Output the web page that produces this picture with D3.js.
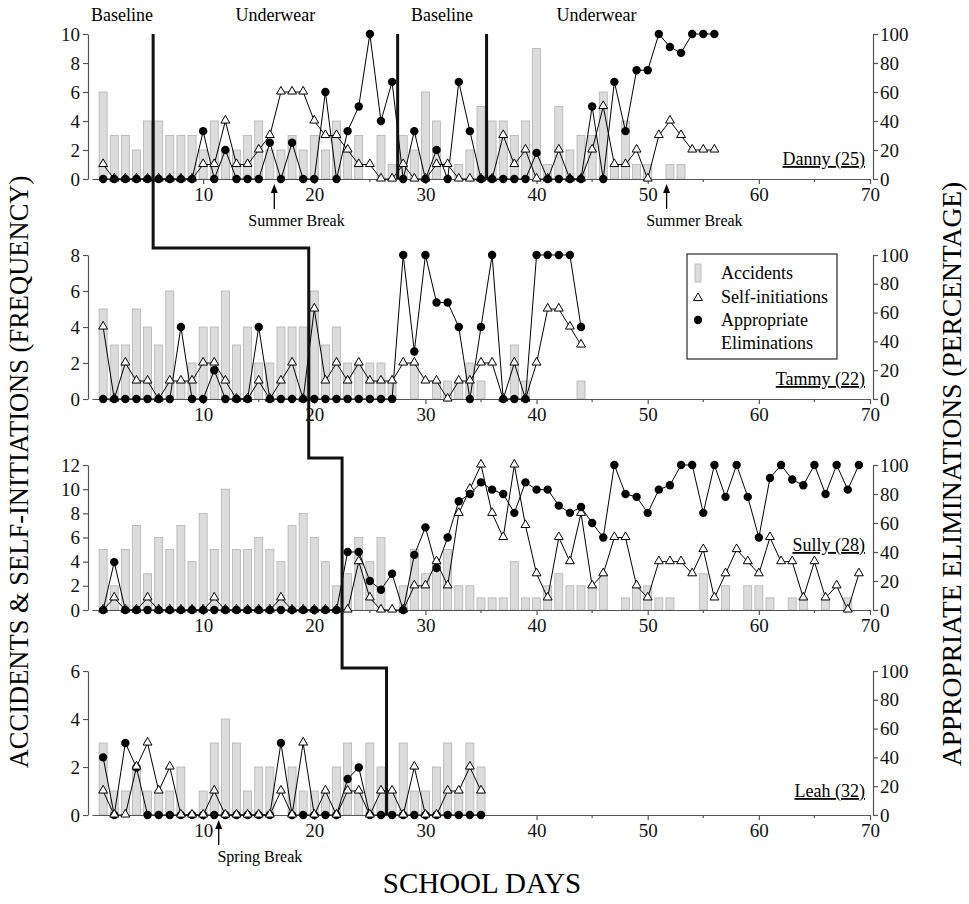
<!DOCTYPE html>
<meta charset="utf-8">
<style>
    body { margin: 0; background: #fff; }
    svg { font-family: "Liberation Serif", "Times New Roman", serif; }
    .axis path, .axis line { stroke: #555; stroke-width: 1.2px; }
    .axis text { font-family: "Liberation Serif", serif; font-size: 19px; fill: #111; }
    .bar { fill: #dcdcdc; stroke: #b2b2b2; stroke-width: 0.8px; }
    .series { fill: none; stroke: #000; stroke-width: 1px; }
    .tri { fill: #fff; stroke: #000; stroke-width: 1px; }
    .dot { fill: #000; }
    .phase { fill: none; stroke: #111; stroke-width: 3px; }
</style>
<svg width="969" height="904"></svg>
<script src="https://cdnjs.cloudflare.com/ajax/libs/d3/7.8.5/d3.min.js"></script>
<script>
    // accidents (frequency), self-initiations (frequency), appropriate eliminations (%)
    // one value per school day, starting at day 1
    var dannyAcc  = [6,3,3,2,4,4,3,3,3,2,4,2,2,3,4,2,2,3,2,3,2,4,2,3,0,3,1,3,2,6,4,0,1,2,5,4,4,3,4,9,1,5,2,3,3,6,1,4,1,1,0,1,1,0,0,0];
    var dannySelf = [1,0,0,0,0,0,0,0,0,1,1,4,1,1,2,3,6,6,6,4,3,3,2,1,1,0,0,1,0,0,1,1,0,0,0,0,3,1,2,0,0,2,0,0,2,5,1,1,2,0,3,4,3,2,2,2];
    var dannyElim = [0,0,0,0,0,0,0,0,0,33,0,20,0,0,0,25,0,25,0,0,60,0,33,50,100,40,67,0,33,0,20,0,67,33,0,0,0,0,0,18,0,0,0,0,50,0,67,33,75,75,100,91,87,100,100,100];

    var tammyAcc  = [5,3,3,5,4,3,6,1,2,4,4,6,3,4,2,2,4,4,4,6,3,4,2,2,2,2,1,0,2,0,1,1,1,2,1,0,0,3,1,0,0,0,0,1];
    var tammySelf = [4,0,2,1,1,0,1,1,1,2,2,1,0,0,1,0,1,2,0,5,1,2,1,2,1,1,1,2,2,1,1,0,1,1,2,2,0,2,0,2,5,5,4,3];
    var tammyElim = [0,0,0,0,0,0,0,50,0,0,20,0,0,0,50,0,0,0,0,0,0,0,0,0,0,0,0,100,33,100,67,67,50,0,50,100,0,0,0,100,100,100,100,50];

    var sullyAcc  = [5,2,5,7,3,6,5,7,4,8,5,10,5,5,6,5,4,7,8,6,4,2,3,6,4,6,0,2,5,3,4,5,2,2,1,1,1,4,1,1,2,3,2,2,2,3,0,1,2,2,1,1,0,0,3,0,2,0,2,2,1,0,1,1,0,1,0,1,0];
    var sullySelf = [0,1,0,0,1,0,0,0,0,0,1,0,0,0,0,0,1,0,0,0,0,0,0,4,1,0,0,0,2,2,4,2,8,10,12,8,6,12,7,3,1,6,4,8,2,3,6,6,2,1,4,4,4,3,5,1,3,5,4,3,6,4,4,1,4,1,2,0,3];
    var sullyElim = [0,33,0,0,0,0,0,0,0,0,0,0,0,0,0,0,0,0,0,0,0,0,40,40,20,14,25,0,38,57,29,50,75,80,88,83,80,67,88,83,83,72,67,71,60,50,100,80,78,67,83,86,100,100,67,100,78,100,78,50,91,100,90,86,100,80,100,83,100];

    var leahAcc  = [3,1,1,2,1,1,1,2,0,1,3,4,3,1,2,2,0,2,1,1,1,2,3,1,3,2,1,3,1,1,2,3,1,3,2];
    var leahSelf = [1,0,0,2,3,1,2,0,0,0,1,0,0,0,0,0,1,0,3,0,1,0,1,1,0,1,1,0,2,0,0,1,1,2,1];
    var leahElim = [40,0,50,33,0,0,0,0,0,0,0,0,0,0,0,0,50,0,0,0,0,0,25,33,0,0,0,0,0,0,0,0,0,0,0];

    var names = ["Danny", "Tammy", "Sully", "Leah"];
    var ages = [25, 22, 28, 32];
    var yMax = [10, 8, 12, 6];
    var phaseChange = [5.5, 19.5, 22.5, 26.5];   // baseline -> underwear, per child
    var dannyReversal = [27.5, 35.5];
    var phaseLabels = [["Baseline", 2.7], ["Underwear", 16.5], ["Baseline", 31.5], ["Underwear", 45.4]];
    var breaks = [
        {panel: 0, day: 16.4, labelDay: 18.4, text: "Summer Break"},
        {panel: 0, day: 51.7, labelDay: 54.2, text: "Summer Break"},
        {panel: 3, day: 11.4, labelDay: 15.1, text: "Spring Break"}
    ];

    var svg = d3.select("svg");
    var tops = [34, 255, 465, 671], bottoms = [179, 399, 610, 815];
    var jog = [7, 7, 3];
    var nameLift = [14, 14, 59, 18];
    var trianglesOnTop = [false, false, false, true];

    var x = d3.scaleLinear().domain([0, 70]).range([92, 870]);
    var data = [
        [dannyAcc, dannySelf, dannyElim],
        [tammyAcc, tammySelf, tammyElim],
        [sullyAcc, sullySelf, sullyElim],
        [leahAcc, leahSelf, leahElim]
    ];
    var tri = d3.symbol().type(d3.symbolTriangle).size(34);

    data.forEach(function(set, i) {
        var y = d3.scaleLinear().domain([0, yMax[i]]).range([bottoms[i], tops[i]]);
        var yp = d3.scaleLinear().domain([0, 100]).range([bottoms[i], tops[i]]);
        var g = svg.append("g");

        var acc = set[0].map(function(v, k) { return {day: k + 1, v: v}; });
        var self = set[1].map(function(v, k) { return {day: k + 1, v: v}; });
        var elim = set[2].map(function(v, k) { return {day: k + 1, v: v}; });

        g.selectAll(".bar")
            .data(acc.filter(function(d) { return d.v > 0; }))
            .enter().append("rect")
            .attr("class", "bar")
            .attr("x", function(d) { return x(d.day) - 4; })
            .attr("width", 8)
            .attr("y", function(d) { return y(d.v); })
            .attr("height", function(d) { return y(0) - y(d.v); });

        // axes
        g.append("g").attr("class", "axis")
            .attr("transform", "translate(88,0)")
            .call(d3.axisLeft(y).tickValues(d3.range(0, yMax[i] + 1, 2)).tickFormat(d3.format("d"))
                .tickSize(5).tickSizeOuter(0).tickPadding(3));
        g.append("g").attr("class", "axis")
            .attr("transform", "translate(873,0)")
            .call(d3.axisRight(yp).tickValues(d3.range(0, 101, 20)).tickFormat(d3.format("d"))
                .tickSize(5).tickSizeOuter(0).tickPadding(2));
        var xa = g.append("g").attr("class", "axis")
            .attr("transform", "translate(0," + bottoms[i] + ")")
            .call(d3.axisBottom(x).tickValues(d3.range(10, 71, 10)).tickSize(5).tickSizeOuter(0).tickPadding(4));
        xa.selectAll(".minor")
            .data(d3.range(5, 70, 10))
            .enter().append("line")
            .attr("class", "minor")
            .attr("x1", function(d) { return x(d); })
            .attr("x2", function(d) { return x(d); })
            .attr("y2", 3);

        // self-initiations and appropriate eliminations lines
        g.append("path").attr("class", "series").datum(self)
            .attr("d", d3.line().x(function(d) { return x(d.day); }).y(function(d) { return y(d.v); }));
        g.append("path").attr("class", "series").datum(elim)
            .attr("d", d3.line().x(function(d) { return x(d.day); }).y(function(d) { return yp(d.v); }));

        function drawTriangles() {
            g.selectAll(".tri").data(self).enter().append("path")
                .attr("class", "tri")
                .attr("d", tri)
                .attr("transform", function(d) { return "translate(" + x(d.day) + "," + (y(d.v) - 0.5) + ")"; });
        }
        function drawDots() {
            g.selectAll(".dot").data(elim).enter().append("circle")
                .attr("class", "dot")
                .attr("r", 4.2)
                .attr("cx", function(d) { return x(d.day); })
                .attr("cy", function(d) { return yp(d.v); });
        }
        if (trianglesOnTop[i]) { drawDots(); drawTriangles(); }
        else { drawTriangles(); drawDots(); }

        g.append("text")
            .attr("x", 865).attr("y", bottoms[i] - nameLift[i])
            .attr("text-anchor", "end")
            .style("font-size", "18px")
            .style("text-decoration", "underline")
            .text(names[i] + " (" + ages[i] + ")");
    });

    // phase change lines
    var stair = [[x(phaseChange[0]), tops[0]]];
    phaseChange.forEach(function(d, i) {
        var yEnd = i < 3 ? tops[i + 1] - jog[i] : bottoms[3];
        stair.push([x(d), yEnd]);
        if (i < 3) stair.push([x(phaseChange[i + 1]), yEnd]);
    });
    svg.append("path").attr("class", "phase").attr("d", d3.line()(stair));
    dannyReversal.forEach(function(d) {
        svg.append("line").attr("class", "phase")
            .attr("x1", x(d)).attr("x2", x(d))
            .attr("y1", tops[0]).attr("y2", bottoms[0]);
    });

    phaseLabels.forEach(function(p) {
        svg.append("text").attr("x", x(p[1])).attr("y", 21)
            .attr("text-anchor", "middle").style("font-size", "18px").text(p[0]);
    });

    breaks.forEach(function(b) {
        var y0 = bottoms[b.panel], bx = x(b.day);
        svg.append("line").attr("x1", bx).attr("x2", bx)
            .attr("y1", y0 + 30).attr("y2", y0 + 12)
            .attr("stroke", "#000").attr("stroke-width", 1.3);
        svg.append("path")
            .attr("d", "M" + bx + "," + (y0 + 5) + "l-3.5,9h7z")
            .attr("fill", "#000");
        svg.append("text").attr("x", x(b.labelDay)).attr("y", y0 + 47)
            .attr("text-anchor", "middle").style("font-size", "16px").text(b.text);
    });

    // legend
    var lg = svg.append("g").attr("transform", "translate(687,254)");
    lg.append("rect").attr("width", 150).attr("height", 105)
        .attr("fill", "#fff").attr("stroke", "#000").attr("stroke-width", 1);
    lg.append("rect").attr("class", "bar").attr("x", 8).attr("y", 10).attr("width", 6).attr("height", 18);
    lg.append("path").attr("class", "tri").attr("d", tri)
        .attr("transform", "translate(11,44)");
    lg.append("circle").attr("class", "dot").attr("r", 4.2).attr("cx", 11).attr("cy", 66);
    [["Accidents", 25], ["Self-initiations", 49], ["Appropriate", 72], ["Eliminations", 95]].forEach(function(t) {
        lg.append("text").attr("x", 34).attr("y", t[1]).style("font-size", "18px").text(t[0]);
    });

    // axis titles
    svg.append("text")
        .attr("transform", "translate(19,472) rotate(-90)")
        .attr("text-anchor", "middle").attr("dominant-baseline", "central")
        .style("font-size", "26.5px")
        .text("ACCIDENTS & SELF-INITIATIONS (FREQUENCY)");
    svg.append("text")
        .attr("transform", "translate(951,474) rotate(-90)")
        .attr("text-anchor", "middle").attr("dominant-baseline", "central")
        .style("font-size", "27.5px")
        .text("APPROPRIATE ELIMINATIONS (PERCENTAGE)");
    svg.append("text")
        .attr("x", 482).attr("y", 893)
        .attr("text-anchor", "middle")
        .style("font-size", "29px")
        .text("SCHOOL DAYS");
</script>
